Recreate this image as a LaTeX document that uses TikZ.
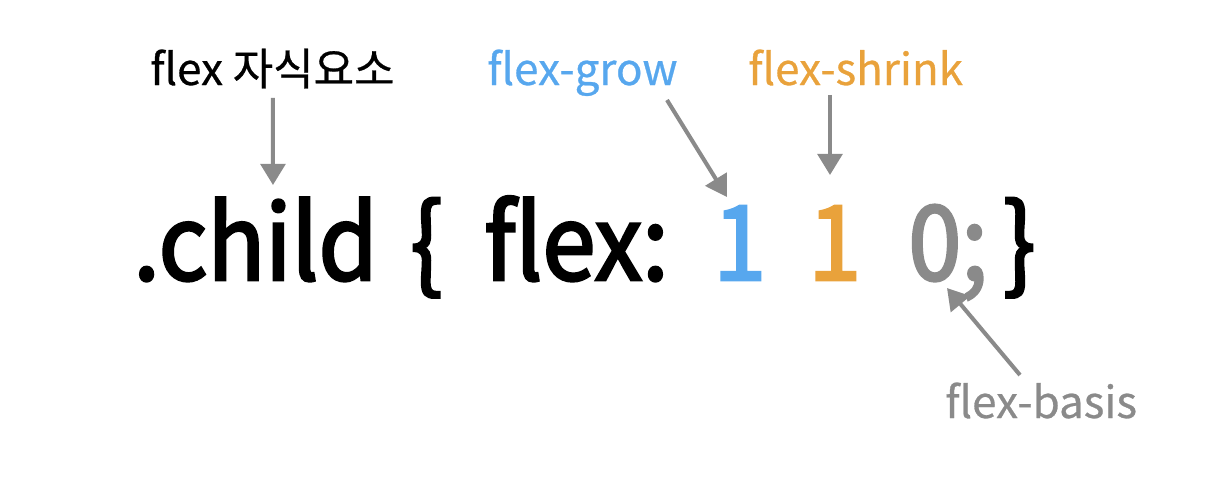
\documentclass[tikz,border=0pt]{standalone}
\usepackage{fontspec}
\setmainfont{Noto Sans CJK KR}
\newfontfamily\codefont[FakeBold=2.6, FakeStretch=0.92]{Noto Sans CJK KR}
\newfontfamily\lblfont[FakeBold=0.6]{Noto Sans CJK KR}
\usetikzlibrary{arrows.meta}
\definecolor{growblue}{HTML}{57A7EE}
\definecolor{shrinkorange}{HTML}{E9A23B}
\definecolor{basisgray}{HTML}{8A8A8A}
\begin{document}
\begin{tikzpicture}[x=0.02cm, y=-0.02cm,
    lbl/.style={anchor=base west, inner sep=0pt, font=\lblfont\fontsize{25}{28}\selectfont},
    code/.style={anchor=base west, inner sep=0pt, font=\codefont\fontsize{59}{62}\selectfont},
    ptr/.style={-{Triangle[width=14pt,length=12pt]}, draw=basisgray, line width=2.3pt}]
    \useasboundingbox (0,0) rectangle (1208,480);
    % labels
    \node[lbl] (lblitem) at (150,85) {flex 자식요소};
    \node[lbl, text=growblue] (lblgrow) at (487,85) {flex-grow};
    \node[lbl, text=shrinkorange] (lblshrink) at (748,85) {flex-shrink};
    \node[lbl, text=basisgray] (lblbasis) at (945,418) {flex-basis};
    % the rule
    \node[code] (child) at (133,280) {.child};
    \node[code] (lbrace) at (410,280) {\{};
    \node[code] (flex) at (484,280) {flex:};
    \node[code, text=growblue] (grow) at (713,280) {1};
    \node[code, text=shrinkorange] (shrink) at (808,280) {1};
    \node[code, text=basisgray] (basis) at (908,280) {0;};
    \node[code] (rbrace) at (1003,280) {\}};
    % pointers
    \draw[ptr] ([xshift=2.46cm, yshift=-0.26cm]lblitem.base west) -- ([xshift=2.8cm, yshift=1.9cm]child.base west);
    \draw[ptr] ([xshift=3.6cm, yshift=-0.3cm]lblgrow.base west) -- ([xshift=0.28cm, yshift=1.66cm]grow.base west);
    \draw[ptr] ([xshift=1.64cm, yshift=-0.2cm]lblshrink.base west) -- ([xshift=1.64cm, yshift=2.1cm]lblshrink.base west |- shrink.base west);
    \draw[ptr] ([xshift=1.5cm, yshift=0.86cm]lblbasis.base west) -- ([xshift=0.78cm, yshift=-0.16cm]basis.base west);
\end{tikzpicture}
\end{document}
